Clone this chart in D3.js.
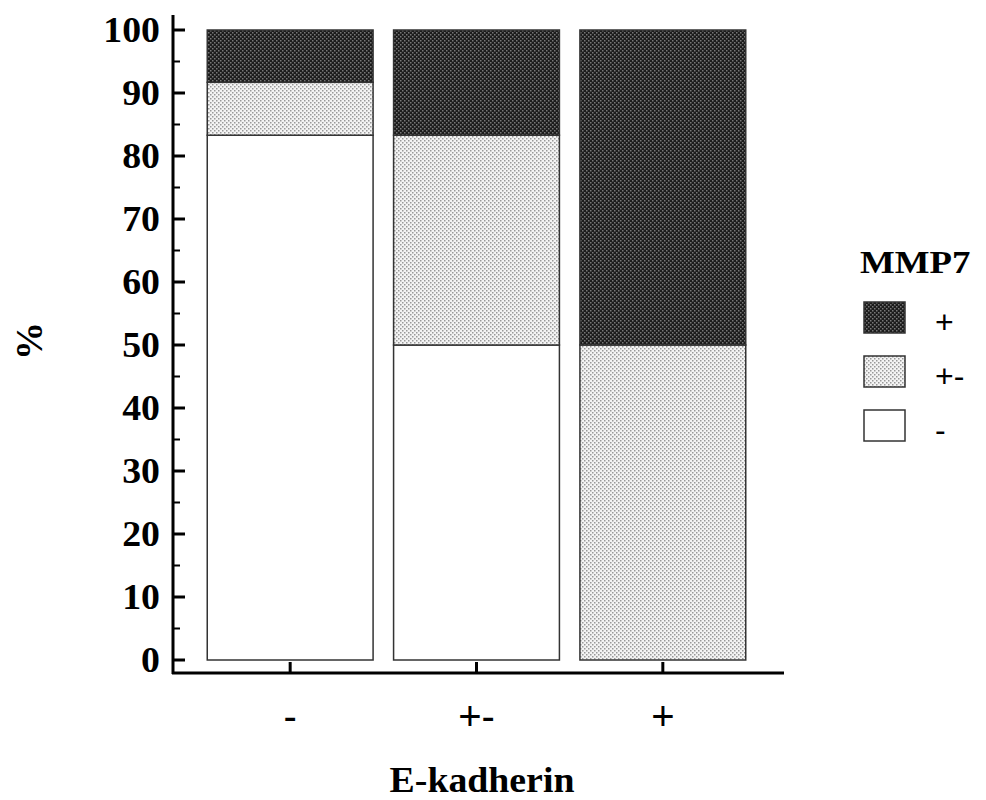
<!DOCTYPE html>
<html>
<head>
<meta charset="utf-8">
<script src="https://cdn.jsdelivr.net/npm/d3@7"></script>
<style>
  body { margin: 0; background: #fff; }
</style>
</head>
<body>
<svg id="chart" width="986" height="800"></svg>
<script>
// E-kadherin groups and MMP7 stack shares (%)
const groups = ['-', '+-', '+']
const mmpKeys = ['-', '+-', '+']          // bottom to top
const mmpNeg = [83.3, 50, 0]
const mmpMid = [8.4, 33.3, 50]
const mmpPos = [8.3, 16.7, 50]
const yTicks = [0, 10, 20, 30, 40, 50, 60, 70, 80, 90, 100]
const legendKeys = ['+', '+-', '-']

const svg = d3.select('#chart')
const serif = "'Liberation Serif', 'Times New Roman', serif"
const sans = "'Liberation Sans', Arial, sans-serif"

// dotted fills
const defs = svg.append('defs')
const dark = defs.append('pattern').attr('id', 'pDark')
  .attr('width', 4).attr('height', 4).attr('patternUnits', 'userSpaceOnUse')
dark.append('rect').attr('width', 4).attr('height', 4).attr('fill', '#1c1c1c')
dark.append('rect').attr('x', 0).attr('y', 0).attr('width', 1.5).attr('height', 1.5).attr('fill', '#777')
dark.append('rect').attr('x', 2).attr('y', 2).attr('width', 1.5).attr('height', 1.5).attr('fill', '#777')

const light = defs.append('pattern').attr('id', 'pLight')
  .attr('width', 4).attr('height', 4).attr('patternUnits', 'userSpaceOnUse')
light.append('rect').attr('width', 4).attr('height', 4).attr('fill', '#f4f4f4')
light.append('rect').attr('x', 0).attr('y', 0).attr('width', 1.5).attr('height', 1.5).attr('fill', '#999')
light.append('rect').attr('x', 2).attr('y', 2).attr('width', 1.5).attr('height', 1.5).attr('fill', '#999')

const fills = { '+': 'url(#pDark)', '+-': 'url(#pLight)', '-': '#fff' }

const x = d3.scaleBand().domain(groups).range([197, 756])
  .paddingInner(0.11).paddingOuter(0.055)
const y = d3.scaleLinear().domain([0, 100]).range([660, 30])

const rows = groups.map((g, i) => ({ group: g, '-': mmpNeg[i], '+-': mmpMid[i], '+': mmpPos[i] }))
const series = d3.stack().keys(mmpKeys)(rows)

svg.append('g').selectAll('g')
  .data(series)
  .join('g')
  .attr('fill', s => fills[s.key])
  .selectAll('rect')
  .data(s => s.filter(d => d[1] - d[0] > 0))
  .join('rect')
  .attr('x', d => x(d.data.group))
  .attr('width', x.bandwidth())
  .attr('y', d => y(d[1]))
  .attr('height', d => y(d[0]) - y(d[1]))
  .attr('stroke', '#333')
  .attr('stroke-width', 1.5)

// y axis
const yAxis = svg.append('g').attr('transform', 'translate(173,0)')
yAxis.append('line').attr('x1', 0).attr('x2', 0).attr('y1', 15).attr('y2', 674)
  .attr('stroke', '#000').attr('stroke-width', 3)
yAxis.selectAll('.major').data(yTicks).join('line')
  .attr('x1', 0).attr('x2', 12).attr('y1', d => y(d)).attr('y2', d => y(d))
  .attr('stroke', '#000').attr('stroke-width', 3)
yAxis.selectAll('.minor').data(yTicks.slice(1).map(d => d - 5)).join('line')
  .attr('x1', 0).attr('x2', 7).attr('y1', d => y(d)).attr('y2', d => y(d))
  .attr('stroke', '#000').attr('stroke-width', 2)
yAxis.selectAll('text').data(yTicks).join('text')
  .attr('transform', d => `translate(-13,${y(d)}) scale(1.08,1)`)
  .attr('dy', '0.35em')
  .attr('text-anchor', 'end')
  .style('font-family', serif).style('font-weight', 'bold').style('font-size', '35px')
  .text(d => d)

// x axis
const xAxis = svg.append('g').attr('transform', 'translate(0,673)')
xAxis.append('line').attr('x1', 172).attr('x2', 784).attr('y1', 0).attr('y2', 0)
  .attr('stroke', '#000').attr('stroke-width', 3)
xAxis.selectAll('.tick').data(groups).join('line')
  .attr('x1', d => x(d) + x.bandwidth() / 2).attr('x2', d => x(d) + x.bandwidth() / 2)
  .attr('y1', 0).attr('y2', -11)
  .attr('stroke', '#000').attr('stroke-width', 3)
xAxis.selectAll('text').data(groups).join('text')
  .attr('x', d => x(d) + x.bandwidth() / 2).attr('y', 57)
  .attr('text-anchor', 'middle')
  .style('font-family', sans).style('font-size', '40px')
  .text(d => d)

// titles
svg.append('text').attr('transform', 'translate(482,792) scale(1.05,1)').attr('text-anchor', 'middle')
  .style('font-family', serif).style('font-weight', 'bold').style('font-size', '36px')
  .text('E-kadherin')
svg.append('text').attr('transform', 'translate(42,341) rotate(-90)').attr('text-anchor', 'middle')
  .style('font-family', serif).style('font-weight', 'bold').style('font-size', '38px')
  .text('%')

// legend
const legend = svg.append('g')
legend.append('text').attr('transform', 'translate(860,273) scale(1.15,1)')
  .style('font-family', serif).style('font-weight', 'bold').style('font-size', '32px')
  .text('MMP7')
const items = legend.selectAll('.item').data(legendKeys).join('g')
  .attr('transform', (d, i) => `translate(864,${302 + i * 54})`)
items.append('rect').attr('width', 41).attr('height', 31)
  .attr('fill', d => fills[d]).attr('stroke', '#333').attr('stroke-width', 1.5)
items.append('text').attr('x', 71).attr('y', 31)
  .style('font-family', sans).style('font-size', '32px')
  .text(d => d)
</script>
</body>
</html>
